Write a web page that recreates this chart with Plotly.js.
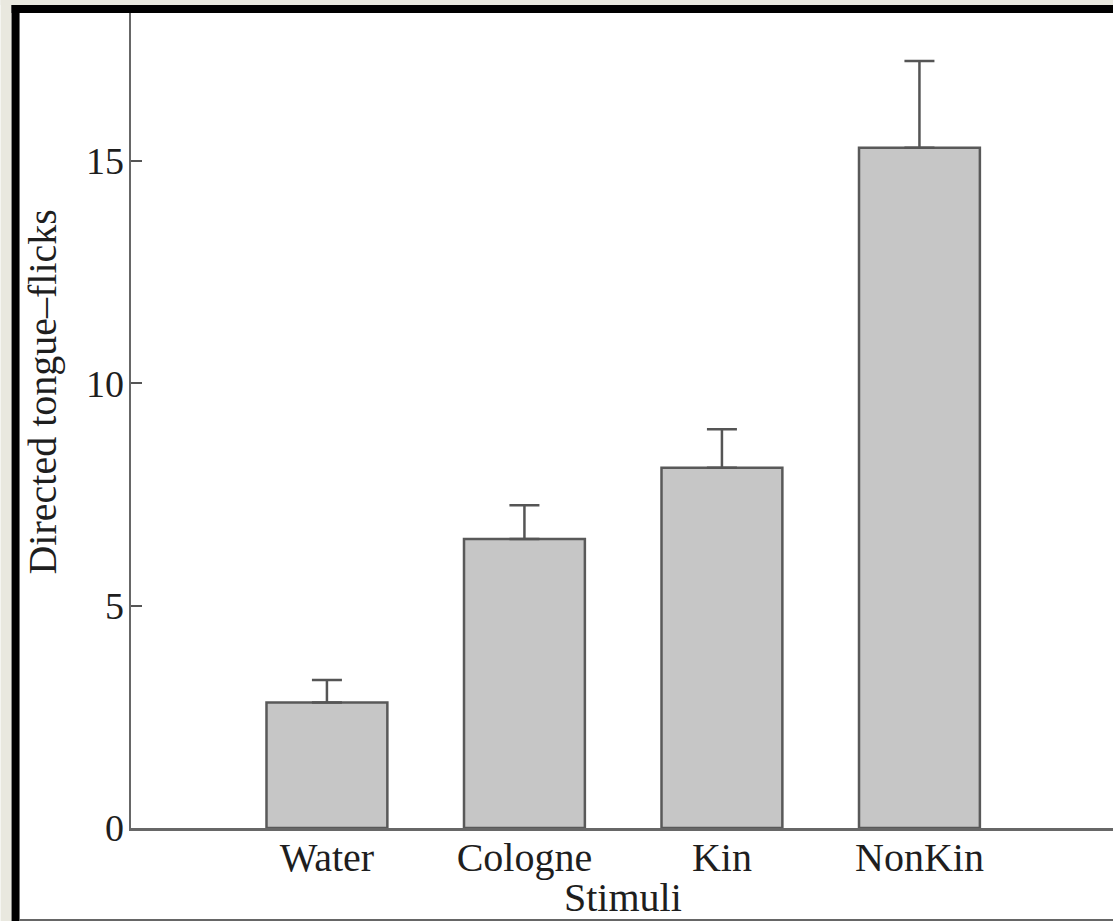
<!DOCTYPE html>
<html>
<head>
<meta charset="utf-8">
<script src="https://cdn.plot.ly/plotly-3.0.1.min.js"></script>
<style>
  html, body { margin: 0; padding: 0; background: #ffffff; }
  #chart { width: 1113px; height: 921px; }
</style>
</head>
<body>
<div id="chart"></div>
<script>
// Data
const categories = ["Water", "Cologne", "Kin", "NonKin"];
const meanFlicks = [2.82, 6.5, 8.1, 15.3];
const errorUp = [0.51, 0.76, 0.87, 1.95];
const yTickValues = [0, 5, 10, 15];
const xPositions = [0, 1, 2, 3];

const W = 1113, H = 921;
const M = { l: 130.5, r: 0, t: 13, b: 93 };
const pw = W - M.l - M.r, ph = H - M.t - M.b;
const px = v => (v - M.l) / pw;          // pixel x -> paper x
const py = v => (H - M.b - v) / ph;      // pixel y -> paper y

const serif = "'Liberation Serif', 'Times New Roman', serif";
const axisGray = "#676767";

const trace = {
  type: "bar",
  x: xPositions,
  y: meanFlicks,
  width: 0.612,
  marker: { color: "#c6c6c6", line: { color: "#595959", width: 2.5 } },
  error_y: {
    type: "data",
    symmetric: false,
    array: errorUp,
    arrayminus: [0, 0, 0, 0],
    color: "#555555",
    thickness: 2.5,
    width: 15
  },
  hoverinfo: "skip"
};

const shapes = [
  // beige outer margin (left and top)
  { type: "rect", xref: "paper", yref: "paper", x0: px(0), x1: px(11), y0: py(0), y1: py(H), fillcolor: "#e9e8df", line: { width: 0 } },
  { type: "rect", xref: "paper", yref: "paper", x0: px(0), x1: px(W), y0: py(0), y1: py(5), fillcolor: "#e9e8df", line: { width: 0 } },
  // black frame (left and top)
  { type: "rect", xref: "paper", yref: "paper", x0: px(11), x1: px(19), y0: py(5), y1: py(H), fillcolor: "#000000", line: { width: 0 } },
  { type: "rect", xref: "paper", yref: "paper", x0: px(11), x1: px(W), y0: py(5), y1: py(13), fillcolor: "#000000", line: { width: 0 } },
  // gray bottom line
  { type: "line", xref: "paper", yref: "paper", x0: px(19), x1: px(W), y0: py(920), y1: py(920), line: { color: "#666666", width: 2 } }
];

const layout = {
  width: W, height: H,
  margin: M,
  paper_bgcolor: "#ffffff",
  plot_bgcolor: "#ffffff",
  showlegend: false,
  font: { family: serif, color: "#1e1e1e", size: 40 },
  xaxis: {
    range: [-0.992, 3.98],
    tickmode: "array",
    tickvals: xPositions,
    ticktext: categories,
    ticks: "",
    ticklabelstandoff: -8,
    showline: true,
    linecolor: axisGray,
    linewidth: 2.5,
    showgrid: false,
    zeroline: false,
    tickfont: { family: serif, size: 40, color: "#1e1e1e" }
  },
  yaxis: {
    range: [0, 18.33],
    tickmode: "array",
    tickvals: yTickValues,
    ticks: "inside",
    ticklen: 11,
    tickwidth: 2,
    tickcolor: "#555555",
    ticklabelstandoff: -3,
    showline: true,
    linecolor: axisGray,
    linewidth: 2.5,
    showgrid: false,
    zeroline: false,
    tickfont: { family: serif, size: 38, color: "#1e1e1e" }
  },
  annotations: [
    { text: "Stimuli", xref: "paper", yref: "paper", x: px(623), y: py(897), xanchor: "center", yanchor: "middle", showarrow: false, font: { family: serif, size: 40, color: "#1e1e1e" } },
    { text: "Directed tongue–flicks", xref: "paper", yref: "paper", x: px(41), y: py(392), xanchor: "center", yanchor: "middle", textangle: -90, showarrow: false, font: { family: serif, size: 40, color: "#1e1e1e" } }
  ],
  shapes: shapes
};

Plotly.newPlot("chart", [trace], layout, { displayModeBar: false, staticPlot: true });
</script>
</body>
</html>
